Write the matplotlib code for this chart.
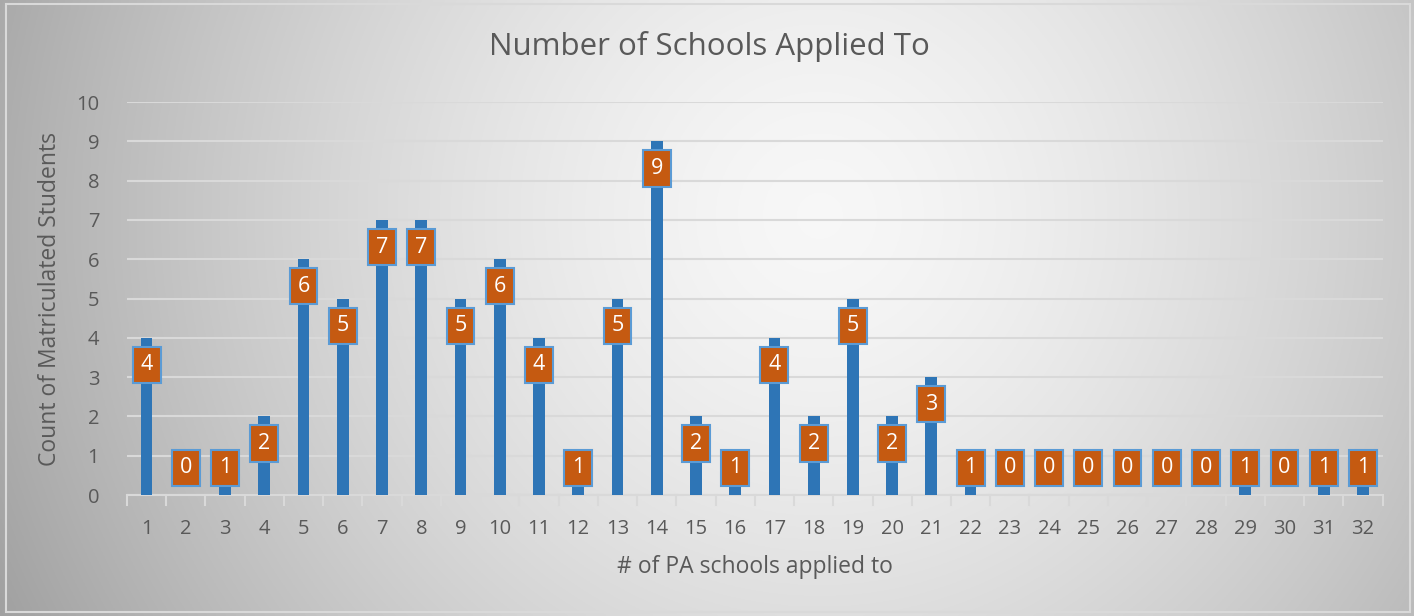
import numpy as np
import matplotlib
matplotlib.use("Agg")
import matplotlib.pyplot as plt
from matplotlib.patches import Rectangle

plt.rcParams['font.family'] = ['Open Sans', 'DejaVu Sans']

# schools applied to vs count of matriculated students
schools = list(range(1, 33))
counts = [4, 0, 1, 2, 6, 5, 7, 7, 5, 6, 4, 1, 5, 9, 2, 1,
          4, 2, 5, 2, 3, 1, 0, 0, 0, 0, 0, 0, 1, 0, 1, 1]

title = 'Number of Schools Applied To'
xlabel = '# of PA schools applied to'
ylabel = 'Count of Matriculated Students'

text_col = '#595959'
bar_col = '#2E75B6'
box_col = '#C55A11'
box_edge = '#5B9BD5'
grid_col = '#d9d9d9'

fig = plt.figure(figsize=(14.14, 6.16), dpi=100)

# background radial gradient
bg = fig.add_axes([0, 0, 1, 1], zorder=-10)
yy, xx = np.mgrid[0:1:300j, 0:1:700j]
r = np.sqrt(((xx - 0.58) * 2.3) ** 2 + ((yy - 0.65) * 1.0) ** 2)
r = np.clip(r / r.max(), 0, 1)
c0 = np.array([0.97, 0.97, 0.97])
c1 = np.array([0.63, 0.63, 0.63])
img = c0 + (c1 - c0) * (r[..., None] ** 1.5)
bg.imshow(img, extent=[0, 1, 0, 1], origin='lower', aspect='auto')
bg.add_patch(Rectangle((0.004, 0.006), 0.993, 0.988, transform=bg.transAxes,
                       fill=False, edgecolor='#d9d9d9', linewidth=1.5))
bg.set_xlim(0, 1)
bg.set_ylim(0, 1)
bg.axis('off')

ax = fig.add_axes([0.0898, 0.1964, 0.888, 0.638])
ax.patch.set_alpha(0)
x = np.arange(len(schools))
ax.bar(x, counts, width=0.3, color=bar_col, zorder=3)

# data label boxes
bw, bh = 0.71, 0.92
for xi, v in zip(x, counts):
    cy = max(v - 0.69, 0.69)
    ax.add_patch(Rectangle((xi - bw / 2, cy - bh / 2), bw, bh, facecolor=box_col,
                           edgecolor=box_edge, linewidth=1.5, zorder=4))
    ax.text(xi, cy, str(v), ha='center', va='center', color='white',
            fontsize=15.5, zorder=5)

ax.set_xlim(-0.5, len(schools) - 0.5)
ax.set_ylim(0, 10)
ax.set_yticks(range(0, 11))
ax.set_xticks(x)
ax.set_xticklabels([str(s) for s in schools])
ax.yaxis.grid(True, color=grid_col, linewidth=1.5, zorder=0)
ax.set_axisbelow(True)
for s in ['top', 'right', 'left']:
    ax.spines[s].set_visible(False)
ax.spines['bottom'].set_color(grid_col)
ax.spines['bottom'].set_linewidth(1.5)
ax.tick_params(axis='y', length=0, labelsize=14.5, labelcolor=text_col, pad=20)
ax.tick_params(axis='x', length=0, labelsize=14.5, labelcolor=text_col, pad=17)
# category boundary ticks
for b in np.arange(-0.5, len(schools), 1.0):
    ax.plot([b, b], [0, -0.25], color=grid_col, linewidth=1.5, clip_on=False, zorder=2)

ax.set_xlabel(xlabel, fontsize=16.5, color=text_col, labelpad=12)
ax.set_ylabel(ylabel, fontsize=16.5, color=text_col, labelpad=10)
fig.text(0.5014, 0.924, title, ha='center', va='center', fontsize=22.5, color=text_col)

fig.savefig('out.png', dpi=100)
